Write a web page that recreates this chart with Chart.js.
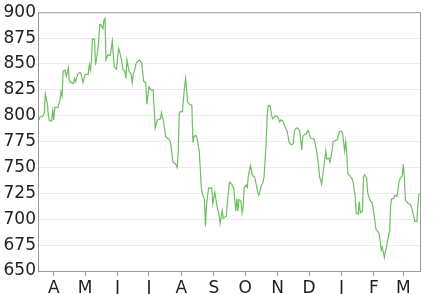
<!DOCTYPE html>
<html>
<head>
<meta charset="utf-8">
<script src="https://cdn.jsdelivr.net/npm/chart.js@4/dist/chart.umd.min.js"></script>
<style>
  body { margin: 0; background: #fff; }
  #wrap { width: 433px; height: 294px; }
</style>
</head>
<body>
<div id="wrap"><canvas id="lineChart" width="433" height="294"></canvas></div>
<script>
// Days since the start of the series (day 0 is mid March)
const days = [
    0, 2, 4, 6, 7, 9, 10, 11, 13, 14, 15, 16, 19, 21, 22, 23, 24, 26, 27, 29,
    30, 32, 34, 35, 36, 38, 40, 41, 43, 45, 47, 48, 49, 50, 51, 52, 54, 55, 57, 58,
    59, 60, 62, 63, 64, 65, 67, 69, 71, 72, 73, 75, 77, 78, 80, 81, 83, 84, 85, 87,
    89, 90, 91, 92, 94, 97, 99, 101, 103, 104, 106, 108, 110, 111, 112, 114, 117, 118, 120, 122,
    124, 126, 127, 128, 129, 131, 133, 134, 135, 136, 138, 139, 140, 141, 142, 143, 145, 147, 148, 149,
    151, 152, 154, 155, 156, 157, 159, 160, 161, 163, 166, 167, 169, 171, 173, 174, 176, 177, 180, 181,
    183, 185, 187, 189, 190, 191, 192, 194, 195, 196, 197, 199, 200, 201, 203, 204, 205, 207, 208, 210,
    211, 213, 215, 216, 218, 219, 220, 222, 223, 224, 226, 227, 229, 231, 232, 234, 236, 238, 239, 240,
    242, 244, 245, 247, 248, 250, 252, 253, 255, 256, 258, 260, 261, 263, 264, 266, 268, 269, 270, 271,
    273, 274, 275, 276, 278, 279, 281, 282, 284, 286, 288, 290, 291, 293, 294, 295, 296, 298, 300, 301,
    303, 304, 306, 307, 308, 310, 311, 312, 314, 315, 317, 318, 319, 320, 322, 323, 324, 326, 327, 328,
    329, 331, 332, 333, 334, 336, 337, 338, 340, 341, 343, 344, 345, 347, 348, 349, 350, 351, 352, 354,
    356, 357, 359, 360, 362, 363, 364
];

const prices = [
    794, 799, 799, 802, 821, 811, 799, 795, 795, 805, 796, 808, 808, 815, 823, 819, 843, 844, 838, 846,
    833, 832, 831, 836, 833, 840, 842, 841, 832, 840, 840, 840, 849, 844, 852, 874, 874, 849, 862, 873,
    888, 888, 884, 892, 894, 854, 859, 858, 872, 858, 847, 845, 865, 862, 853, 845, 843, 836, 854, 843,
    840, 832, 840, 843, 851, 854, 851, 833, 832, 811, 828, 825, 825, 807, 788, 796, 797, 803, 794, 780,
    778, 776, 772, 763, 755, 754, 750, 766, 802, 804, 804, 816, 827, 836, 825, 813, 811, 810, 774, 780,
    781, 778, 766, 750, 731, 725, 719, 693, 714, 730, 730, 715, 726, 713, 704, 696, 708, 701, 703, 717,
    736, 734, 730, 708, 720, 708, 719, 717, 706, 712, 731, 733, 731, 742, 752, 747, 742, 741, 736, 726,
    723, 731, 736, 741, 774, 800, 810, 809, 802, 797, 799, 800, 799, 794, 796, 795, 789, 785, 780, 774,
    772, 773, 786, 788, 788, 786, 767, 780, 782, 782, 786, 780, 778, 778, 777, 767, 753, 741, 738, 734,
    750, 758, 766, 758, 759, 755, 766, 775, 776, 777, 785, 785, 783, 766, 775, 764, 744, 742, 739, 736,
    723, 706, 705, 717, 706, 708, 741, 743, 740, 726, 719, 717, 717, 712, 698, 690, 689, 686, 679, 670,
    673, 663, 670, 673, 679, 689, 714, 720, 720, 723, 722, 728, 737, 741, 742, 753, 741, 719, 717, 715,
    714, 711, 703, 698, 698, 714, 725
];

// Month ticks: first day of each month, counted in the same days
const monthDays = [15, 45, 76, 106, 137, 168, 198, 229, 259, 290, 321, 349];
const monthLabels = ["A", "M", "J", "J", "A", "S", "O", "N", "D", "J", "F", "M"];

const yTicks = [650, 675, 700, 725, 750, 775, 800, 825, 850, 875, 900];

Chart.defaults.font.family = "'DejaVu Sans', sans-serif";
Chart.defaults.font.size = 17;
Chart.defaults.color = "#222";

// Draws the grey frame on the top and right side of the plot
const framePlugin = {
    id: "frame",
    afterDraw(chart) {
        const { ctx, chartArea } = chart;
        ctx.save();
        ctx.strokeStyle = "#999";
        ctx.lineWidth = 1;
        ctx.beginPath();
        ctx.moveTo(chartArea.left, chartArea.top + 0.5);
        ctx.lineTo(chartArea.right + 0.5, chartArea.top + 0.5);
        ctx.lineTo(chartArea.right + 0.5, chartArea.bottom);
        ctx.stroke();
        ctx.restore();
    }
};

const points = days.map((d, i) => ({ x: d, y: prices[i] }));

new Chart(document.getElementById("lineChart").getContext("2d"), {
    type: "line",
    data: {
        datasets: [{
            data: points,
            borderColor: "rgb(110, 190, 98)",
            borderWidth: 1.2,
            pointRadius: 0,
            tension: 0,
            fill: false
        }]
    },
    options: {
        responsive: false,
        animation: false,
        layout: { padding: { left: 0, top: 6, right: 13, bottom: 0 } },
        plugins: {
            legend: { display: false },
            tooltip: { enabled: false }
        },
        scales: {
            x: {
                type: "linear",
                min: 0,
                max: 365,
                afterFit(scale) { scale.height = 23; },
                afterBuildTicks(scale) {
                    scale.ticks = monthDays.map(v => ({ value: v }));
                },
                grid: {
                    drawOnChartArea: false,
                    drawTicks: true,
                    tickLength: 5,
                    tickColor: "#999"
                },
                border: { color: "#999" },
                ticks: {
                    autoSkip: false,
                    maxRotation: 0,
                    padding: 2,
                    callback: (value) => monthLabels[monthDays.indexOf(value)]
                }
            },
            y: {
                min: 650,
                max: 900,
                afterFit(scale) { scale.width = 38; },
                afterBuildTicks(scale) {
                    scale.ticks = yTicks.map(v => ({ value: v }));
                },
                grid: {
                    color: "#ececec",
                    drawTicks: false
                },
                border: { color: "#999" },
                ticks: { padding: 2 }
            }
        }
    },
    plugins: [framePlugin]
});
</script>
</body>
</html>
